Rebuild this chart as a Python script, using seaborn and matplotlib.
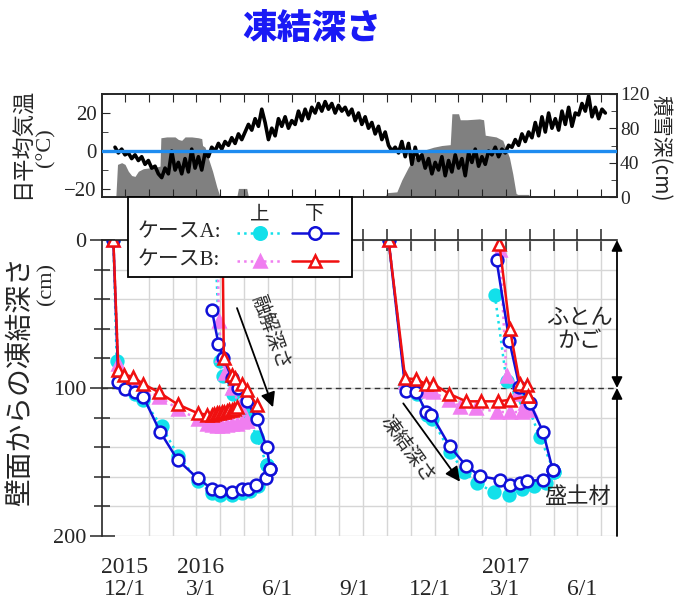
import numpy as np
import pandas as pd
import matplotlib
matplotlib.use("Agg")
import matplotlib.pyplot as plt
from matplotlib.lines import Line2D
from matplotlib.patches import Rectangle
from matplotlib.ticker import MultipleLocator, FixedLocator
import seaborn as sns

# x 軸は 2015-12-01 からの経過日数
ORIGIN = pd.Timestamp("2015-12-01")

# ─── 日平均気温 (4日ごと, 2015-11-19 〜) ───────────────────────────────
TEMP_C = [
    2, -1, 1, -2, -1, -4, -2, -5, -3, -7, -5, -9, -8, -12, -14, -9,
    -12, 0, -10, -6, -12, -4, -11, 1, -9, -3, -10, -1, -3, 2, 0, 4,
    1, 5, 3, 7, 4, 9, 6, 10, 14, 11, 17, 13, 22, 15, 6, 12,
    8, 17, 13, 18, 12, 16, 14, 21, 16, 22, 17, 23, 20, 25, 21, 26,
    22, 25, 20, 24, 21, 23, 19, 22, 16, 20, 14, 18, 12, 15, 9, 13,
    6, 10, 3, 0, 2, -1, 5, -3, 4, -7, 2, -5, -2, -9, -4, -12,
    -6, -10, -3, -13, -5, -11, -2, -9, -4, -13, -1, -6, 1, -8, -3, -7,
    0, -2, 2, -3, 1, -1, 3, 2, 6, 3, 9, 5, 10, 7, 15, 8,
    18, 10, 20, 12, 17, 11, 21, 14, 23, 13, 20, 19, 25, 21, 29, 18,
    23, 17, 22, 20,
]
TEMP_DATE = pd.date_range("2015-11-19", periods=len(TEMP_C), freq="4D")

# ─── 積雪深 ───────────────────────────────────────────────────────────
SNOW_DAY = [-14, -11, -9, -4, 0, 4, 8, 12, 16, 22, 30, 38, 42, 43, 50, 60,
            64, 68, 72, 80, 88, 92, 93, 96, 100, 105, 110, 114, 134, 136,
            146, 148, 312, 314, 326, 332, 340, 346, 352, 360, 370, 380,
            390, 392, 400, 402, 410, 425, 430, 432, 445, 453, 461, 465,
            469, 471, 484, 486]
SNOW_CM = [0, 0, 38, 40, 38, 30, 25, 24, 30, 33, 34, 35, 36, 69, 70, 70,
           67, 66, 70, 70, 69, 68, 60, 58, 45, 30, 12, 0, 0, 10,
           10, 0, 0, 5, 6, 20, 35, 45, 50, 55, 58, 60,
           61, 97, 97, 90, 90, 91, 90, 72, 70, 66, 46, 27,
           4, 3, 3, 0]

# ─── 凍結深さ (seg: 0/1 = 1冬目 凍結/融解, 2/3 = 2冬目 凍結/融解) ─────
A_LOW_DAY = [-14, -8, 0, 12, 22, 42, 63, 87, 104, 114, 128, 140, 148, 157, 169, 174,
             104, 112, 118, 128, 136, 146, 158, 170, 174,
             316, 336.5, 349.5, 361.5, 367.5, 389.5, 409, 425.5, 449.5, 461.5, 473.5,
             481.5, 501.5, 513,
             445.5, 461, 473, 485.5, 501.5, 513]
A_LOW_CM = [0, 96, 101, 102.5, 106, 129.5, 148.5, 161, 168, 169.5, 170, 168.5, 168, 165.5, 161, 155,
            47, 70, 80, 93, 100, 108.5, 121, 140, 155,
            0, 102, 103, 116.5, 118, 139.5, 152.5, 159.5, 162, 165.5, 164.5,
            163, 162, 155.5,
            13.5, 68.5, 99, 110, 130, 155.5]
A_LOW_SEG = [0] * 16 + [1] * 9 + [2] * 14 + [3] * 6

A_UP_DAY = [-14, -10, 0, 12, 22, 44, 64, 88, 104, 114, 128, 140, 150, 160, 170,
            108, 114, 118, 130, 146, 158, 170,
            316, 336, 350, 362, 368, 390, 406, 422, 442, 461, 476, 490, 505, 515,
            443.5, 457.5, 472, 480, 497.5, 515]
A_UP_CM = [0, 82, 99, 104, 108, 126, 146, 163, 171, 172, 172.5, 171, 169.5, 166, 152,
           0, 82, 92, 104, 117, 133, 152,
           0, 98, 104, 118, 121, 143, 156.5, 164, 170.5, 172, 168, 166, 164, 157,
           37, 95.5, 103, 108, 133, 157]
A_UP_SEG = [0] * 15 + [1] * 7 + [2] * 14 + [3] * 6

B_LOW_DAY = [-14, -8, -1, 10, 21, 41, 63, 87, 98, 104, 107, 110, 113, 116, 119, 122,
             125, 128, 131, 134,
             117, 118.5, 128, 132, 140, 146, 158,
             316, 336, 349.5, 361, 369, 389, 409, 426.5, 447.5, 461.5, 483.5,
             449, 461.5, 473.5, 481.5, 483.5]
B_LOW_CM = [0, 88, 91, 92.5, 97, 103, 111, 117, 118, 118, 117.5, 117, 117, 116.5, 116, 115.5,
            115, 115, 114, 113,
            0, 80, 91, 93.5, 97, 101.5, 111.5,
            0, 93.5, 94, 97.5, 97, 104, 109, 109, 109, 108, 105.5,
            3, 60, 97, 98, 105.5]
B_LOW_SEG = [0] * 20 + [1] * 7 + [2] * 11 + [3] * 5

B_UP_DAY = [-14, -8, 0, 10, 21, 41, 63, 87, 98, 104, 110, 116, 122, 128, 134, 140, 146,
            111, 112.5, 116, 120, 128, 138, 146,
            316, 336, 350, 361, 369, 389, 402, 421.5, 445.5, 462, 476, 486,
            449.5, 457.5, 470, 480, 486]
B_UP_CM = [0, 84, 93, 96, 100, 106, 114, 121, 124, 125, 125.5, 125.5, 125, 124.5, 124, 123, 122,
           0, 55, 78, 90, 100, 112, 122,
           0, 96, 99, 102, 103, 108, 112.5, 113.5, 116, 116.5, 116, 115,
           7, 92, 104, 110, 115]
B_UP_SEG = [0] * 17 + [1] * 7 + [2] * 12 + [3] * 5

X_TICK_DAY = [0, 91, 183, 275, 366, 456, 548]
X_TICK_LABEL = ["2015\n12/1", "2016\n3/1", "\n6/1", "\n9/1", "\n12/1", "2017\n3/1", "\n6/1"]

C_CYAN = "#12E0EA"
C_BLUE = "#1010D8"
C_VIOLET = "#F07EF0"
C_RED = "#F01010"
JP = ["Noto Sans CJK JP"]

sns.set_style("ticks")
plt.rcParams["font.family"] = ["Liberation Serif", "Noto Sans CJK JP"]

W, H = 689, 603
fig = plt.figure(figsize=(W / 100, H / 100), dpi=100)


def fx(px):
    return px / W


def fy(py):
    return 1 - py / H


XLIM = (-27.6, 590)
GRID_STEP = 28.55

# ─── 上段: 気温 + 積雪深 ──────────────────────────────────────────────
ax_t = fig.add_axes([fx(102), fy(197), fx(617) - fx(102), fy(94) - fy(197)])
ax_s = ax_t.twinx()
ax_t.set_zorder(ax_s.get_zorder() + 1)
ax_t.patch.set_visible(False)

ax_s.fill_between(SNOW_DAY, SNOW_CM, color="#808080", lw=0)
ax_s.set_ylim(0, 120)
ax_s.yaxis.set_major_locator(MultipleLocator(40))
ax_s.yaxis.set_minor_locator(MultipleLocator(20))
ax_s.tick_params(axis="y", which="both", direction="in", labelsize=14, pad=2)
ax_s.tick_params(axis="y", which="major", length=6)
ax_s.tick_params(axis="y", which="minor", length=4)

temp_day = (TEMP_DATE - ORIGIN).days
sns.lineplot(x=temp_day, y=TEMP_C, ax=ax_t, color="black", lw=2.6)
ax_t.axhline(0, color="#1E8CF0", lw=2.4, zorder=5)
ax_t.set_xlim(*XLIM)
ax_t.set_ylim(-24.2, 30)
ax_t.set_xlabel("")
ax_t.set_ylabel("")
ax_t.yaxis.set_major_locator(MultipleLocator(20))
ax_t.yaxis.set_minor_locator(MultipleLocator(10))
ax_t.xaxis.set_major_locator(MultipleLocator(GRID_STEP))
ax_t.tick_params(axis="x", which="major", direction="in", top=True, bottom=True,
                 length=6, labelbottom=False)
ax_t.tick_params(axis="y", which="both", direction="in", labelsize=15, pad=4)
ax_t.tick_params(axis="y", which="major", length=6)
ax_t.tick_params(axis="y", which="minor", length=4)
for a in (ax_t, ax_s):
    for sp in a.spines.values():
        sp.set_linewidth(1.2)

fig.text(fx(22), fy(143), "日平均気温", rotation=90, ha="center", va="center",
         fontsize=16, family=JP)
fig.text(fx(46), fy(148), "(°C)", rotation=90, ha="center", va="center", fontsize=16)
fig.text(fx(661), fy(148), "積雪深(cm)", rotation=-90, ha="center", va="center",
         fontsize=15, family=JP)

# ─── 下段: 凍結深さ ───────────────────────────────────────────────────
ax = fig.add_axes([fx(102), fy(536), fx(617) - fx(102), fy(240) - fy(536)])


def draw_series(day, cm, seg, color, ls, marker, face):
    df = pd.DataFrame({"day": day, "cm": cm, "seg": seg})
    sns.lineplot(data=df, x="day", y="cm", units="seg", estimator=None, sort=False,
                 ax=ax, color=color, lw=1.8, ls=ls, marker=marker, markersize=8.5,
                 markerfacecolor=face, markeredgecolor=color, markeredgewidth=1.8)


draw_series(A_UP_DAY, A_UP_CM, A_UP_SEG, C_CYAN, ":", "o", C_CYAN)
draw_series(B_UP_DAY, B_UP_CM, B_UP_SEG, C_VIOLET, ":", "^", C_VIOLET)
draw_series(A_LOW_DAY, A_LOW_CM, A_LOW_SEG, C_BLUE, "-", "o", "white")
draw_series(B_LOW_DAY, B_LOW_CM, B_LOW_SEG, C_RED, "-", "^", "white")

ax.set_xlim(*XLIM)
ax.set_ylim(200, 0)
ax.set_xlabel("")
ax.set_ylabel("")
ax.axhline(100, color="#333333", ls=(0, (4, 3)), lw=1.0, zorder=1.5)

ax.xaxis.set_major_locator(FixedLocator(X_TICK_DAY))
ax.set_xticklabels(X_TICK_LABEL)
ax.xaxis.set_minor_locator(MultipleLocator(GRID_STEP))
ax.yaxis.set_major_locator(MultipleLocator(100))
ax.yaxis.set_minor_locator(MultipleLocator(20))
ax.tick_params(axis="x", which="major", length=0, labelsize=17, pad=15)
ax.tick_params(axis="x", which="minor", top=True, bottom=False, direction="inout",
               length=16, width=1.1)
ax.tick_params(axis="y", which="major", direction="inout", length=18, width=1.1,
               labelsize=16, pad=2)
ax.tick_params(axis="y", which="minor", direction="inout", length=12, width=1.1)
for lbl in ax.get_xticklabels():
    lbl.set_linespacing(1.05)
ax.grid(which="minor", axis="x", color="#d6d6d6", lw=1)
ax.grid(which="both", axis="y", color="#d6d6d6", lw=1)
ax.set_axisbelow(True)
ax.spines["right"].set_visible(False)
ax.spines["bottom"].set_visible(False)
ax.spines["left"].set_linewidth(1.2)
ax.spines["top"].set_linewidth(1.2)

# 右端の範囲矢印
ytr = ax.get_yaxis_transform()
ax.annotate("", xy=(1, 0), xytext=(1, 100), xycoords=ytr, textcoords=ytr,
            arrowprops=dict(arrowstyle="<|-|>", color="black", lw=1.3,
                            mutation_scale=16, shrinkA=0, shrinkB=0))
ax.annotate("", xy=(1, 100), xytext=(1, 200), xycoords=ytr, textcoords=ytr,
            arrowprops=dict(arrowstyle="-|>", color="black", lw=1.3,
                            mutation_scale=16, shrinkA=0, shrinkB=0))
ax.text(545, 60, "ふとん\nかご", ha="center", va="center", fontsize=16,
        family=JP, linespacing=1.0)
ax.text(543, 173.5, "盛土材", ha="center", va="center", fontsize=16, family=JP)

# 融解深さ / 凍結深さ の矢印
ax.annotate("", xy=(177.5, 113), xytext=(134.3, 46),
            arrowprops=dict(arrowstyle="-|>", color="black", lw=1.3,
                            mutation_scale=22, shrinkA=0, shrinkB=0))
ax.text(174, 63, "融解深さ", rotation=-70, ha="center", va="center",
        rotation_mode="anchor", fontsize=14, family=JP)
ax.annotate("", xy=(401.7, 163.3), xytext=(333.7, 110.4),
            arrowprops=dict(arrowstyle="-|>", color="black", lw=1.3,
                            mutation_scale=22, shrinkA=0, shrinkB=0))
ax.text(338, 141, "凍結深さ", rotation=-54, ha="center", va="center",
        rotation_mode="anchor", fontsize=14, family=JP)

fig.text(fx(20), fy(381), "壁面からの凍結深さ", rotation=90, ha="center", va="center",
         fontsize=20, family=JP)
fig.text(fx(47), fy(284), "(cm)", rotation=90, ha="center", va="center", fontsize=16)

# ─── 凡例 (図全体座標) ────────────────────────────────────────────────
fig.patches.append(Rectangle((fx(128), fy(277)), fx(352) - fx(128), fy(197) - fy(277),
                             transform=fig.transFigure, fc="white", ec="black", lw=1.3,
                             zorder=10))
fig.text(fx(260), fy(214), "上", ha="center", va="center", fontsize=14, family=JP, zorder=11)
fig.text(fx(315), fy(214), "下", ha="center", va="center", fontsize=14, family=JP, zorder=11)
leg_rows = [
    (233, "ケースA:", (C_CYAN, ":", "o", C_CYAN), (C_BLUE, "-", "o", "white")),
    (261, "ケースB:", (C_VIOLET, ":", "^", C_VIOLET), (C_RED, "-", "^", "white")),
]
for py, label, upper, lower in leg_rows:
    fig.text(fx(138), fy(py), label, ha="left", va="center", fontsize=15, zorder=11)
    for (col, ls, mk, face), (x0, x1, xm) in zip((upper, lower),
                                                 ((237, 283, 260), (292, 338, 315))):
        fig.lines.append(Line2D([fx(x0), fx(x1)], [fy(py), fy(py)], color=col, ls=ls,
                                lw=1.8, transform=fig.transFigure, zorder=11))
        fig.lines.append(Line2D([fx(xm)], [fy(py)], color=col, marker=mk, markersize=9,
                                markerfacecolor=face, markeredgecolor=col,
                                markeredgewidth=1.8, transform=fig.transFigure,
                                zorder=12))

# タイトル
fig.text(fx(312), fy(28), "凍結深さ", ha="center", va="center", fontsize=25,
         fontweight=900, color="#1A1AF5", family=JP)

fig.savefig("out.png", dpi=100)
